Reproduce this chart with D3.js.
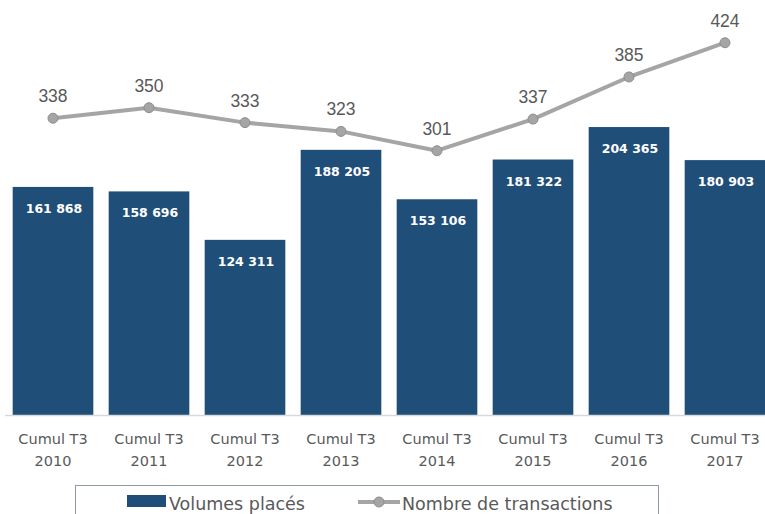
<!DOCTYPE html>
<html>
<head>
<meta charset="utf-8">
<script src="https://cdn.jsdelivr.net/npm/d3@7"></script>
<style>
  body { margin: 0; background: #fff; }
  svg { display: block; }
</style>
</head>
<body>
<div id="chart"></div>
<script>
"use strict";

// Data
var categories = ["2010", "2011", "2012", "2013", "2014", "2015", "2016", "2017"];
var catPrefix = "Cumul T3";
var volumes = [161868, 158696, 124311, 188205, 153106, 181322, 204365, 180903];
var transactions = [338, 350, 333, 323, 301, 337, 385, 424];
var seriesNames = ["Volumes placés", "Nombre de transactions"];

var width = 765, height = 514;
var baseY = 415;

var barColor = "#1F4E79";
var lineColor = "#A5A5A5";
var textColor = "#595959";
var gothic = "'Century Gothic', 'URW Gothic', 'DejaVu Sans', sans-serif";

var svg = d3.select("#chart").append("svg")
  .attr("width", width)
  .attr("height", height);

// Scales
var x = d3.scaleBand()
  .domain(categories)
  .range([5, 773])
  .paddingInner(0.16)
  .paddingOuter(0.08);

var y = d3.scaleLinear()
  .domain([0, 200000])
  .range([baseY, baseY - 281.8]);

var y2 = d3.scaleLinear()
  .domain([0, 400])
  .range([baseY, baseY - 351.2]);

// Bars
svg.selectAll(".bar")
  .data(volumes)
  .enter()
  .append("rect")
    .attr("class", "bar")
    .attr("x", (d, i) => x(categories[i]))
    .attr("y", d => y(d))
    .attr("width", x.bandwidth())
    .attr("height", d => baseY - y(d))
    .attr("fill", barColor);

// bar value labels
svg.selectAll(".barLabel")
  .data(volumes)
  .enter()
  .append("text")
    .attr("class", "barLabel")
    .attr("x", (d, i) => x(categories[i]) + x.bandwidth() / 2 + 1)
    .attr("y", d => y(d) + 26)
    .attr("text-anchor", "middle")
    .attr("font-family", gothic)
    .attr("font-weight", "bold")
    .attr("font-size", 12.5)
    .attr("fill", "#fff")
    .text(d => d3.format(",")(d).replace(",", " "));

// Axis baseline
svg.append("line")
  .attr("x1", 5).attr("x2", width)
  .attr("y1", baseY + 0.5).attr("y2", baseY + 0.5)
  .attr("stroke", "#D9D9D9")
  .attr("stroke-width", 1.5);

// Category labels
var catLabels = svg.selectAll(".cat")
  .data(categories)
  .enter()
  .append("text")
    .attr("class", "cat")
    .attr("text-anchor", "middle")
    .attr("font-family", gothic)
    .attr("font-size", 14.5)
    .attr("fill", textColor);
catLabels.append("tspan")
  .attr("x", d => x(d) + x.bandwidth() / 2)
  .attr("y", 444)
  .text(catPrefix);
catLabels.append("tspan")
  .attr("x", d => x(d) + x.bandwidth() / 2)
  .attr("y", 466)
  .text(d => d);

// Line series
var cx = (d, i) => x(categories[i]) + x.bandwidth() / 2;
svg.append("path")
  .datum(transactions)
  .attr("fill", "none")
  .attr("stroke", lineColor)
  .attr("stroke-width", 4)
  .attr("stroke-linejoin", "round")
  .attr("d", d3.line().x(cx).y(d => y2(d)));

svg.selectAll(".dot")
  .data(transactions)
  .enter()
  .append("circle")
    .attr("class", "dot")
    .attr("cx", cx)
    .attr("cy", d => y2(d))
    .attr("r", 5)
    .attr("fill", lineColor)
    .attr("stroke", "#8E8E8E")
    .attr("stroke-width", 1);

svg.selectAll(".lineLabel")
  .data(transactions)
  .enter()
  .append("text")
    .attr("class", "lineLabel")
    .attr("x", cx)
    .attr("y", d => y2(d) - 16)
    .attr("text-anchor", "middle")
    .attr("font-family", "'Liberation Sans', Arial, sans-serif")
    .attr("font-size", 17.5)
    .attr("fill", textColor)
    .text(d => d);

// Legend
var legend = svg.append("g").attr("class", "legend");
legend.append("rect")
  .attr("x", 75.5).attr("y", 485.5)
  .attr("width", 583).attr("height", 40)
  .attr("fill", "none")
  .attr("stroke", "#8E99A8")
  .attr("stroke-width", 1);

legend.append("rect")
  .attr("x", 127).attr("y", 495)
  .attr("width", 39).attr("height", 12)
  .attr("fill", barColor);
legend.append("text")
  .attr("x", 169).attr("y", 510)
  .attr("font-family", gothic)
  .attr("font-size", 17.5)
  .attr("fill", textColor)
  .text(seriesNames[0]);

legend.append("line")
  .attr("x1", 358).attr("x2", 400)
  .attr("y1", 502).attr("y2", 502)
  .attr("stroke", lineColor)
  .attr("stroke-width", 4);
legend.append("circle")
  .attr("cx", 379).attr("cy", 502).attr("r", 5)
  .attr("fill", lineColor)
  .attr("stroke", "#8E8E8E");
legend.append("text")
  .attr("x", 402).attr("y", 510)
  .attr("font-family", gothic)
  .attr("font-size", 17.5)
  .attr("fill", textColor)
  .text(seriesNames[1]);
</script>
</body>
</html>
